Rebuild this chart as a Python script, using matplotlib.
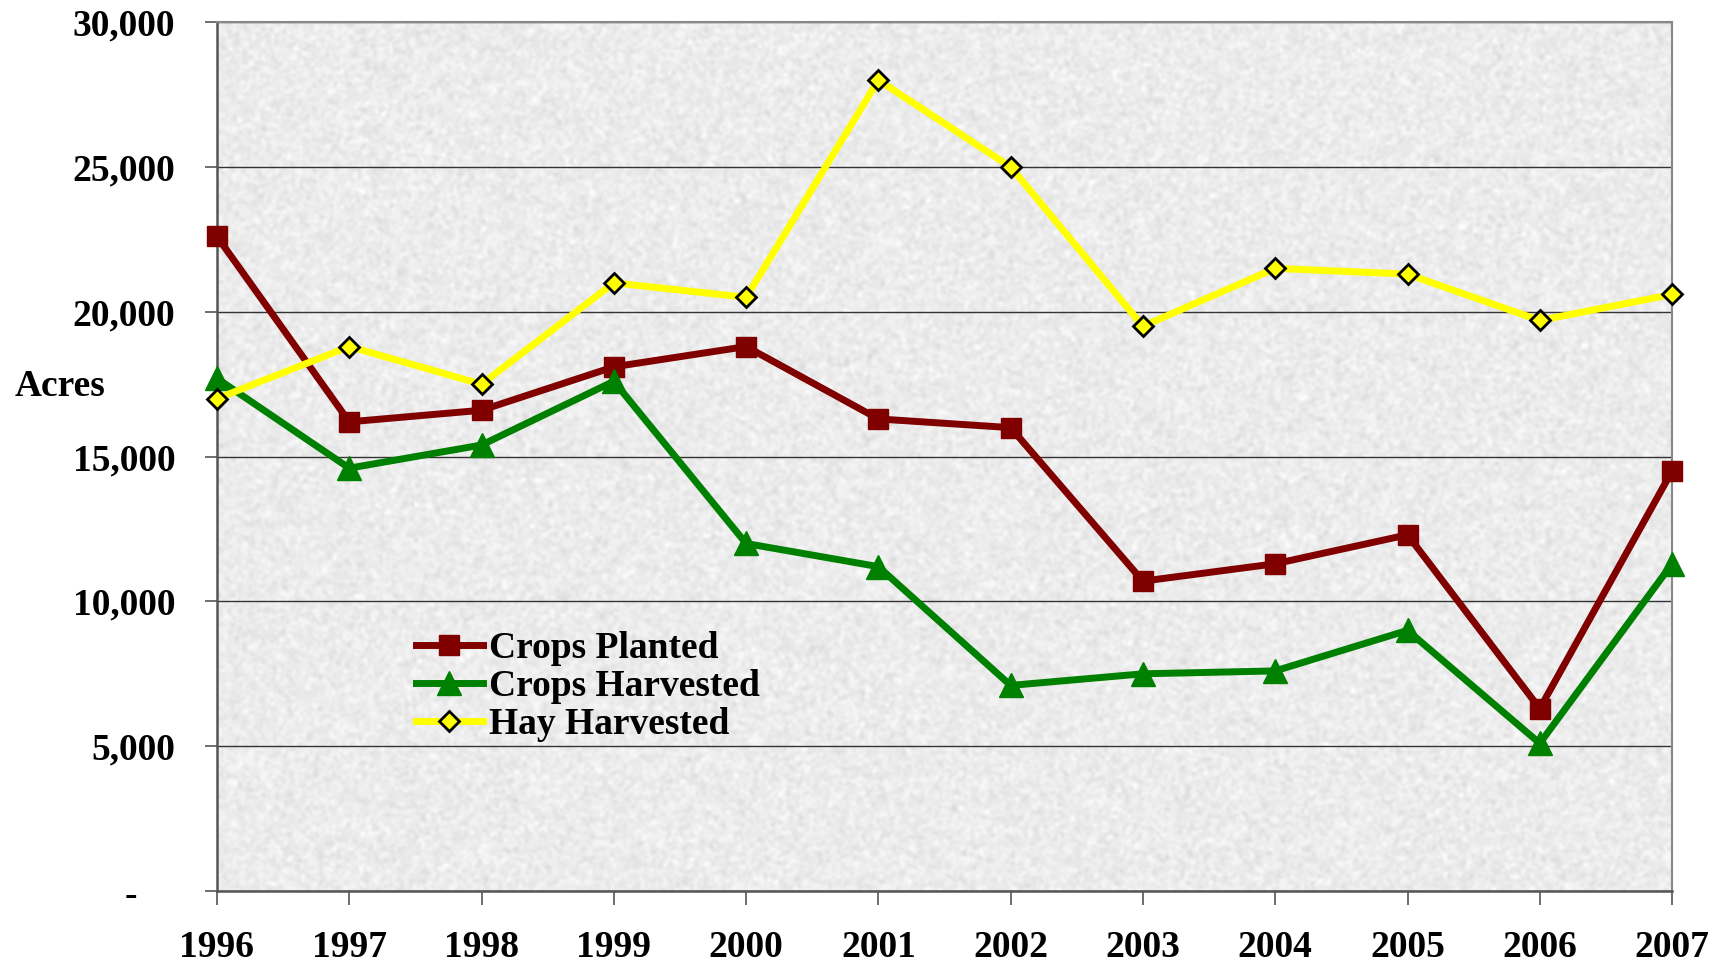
import numpy as np
import matplotlib
matplotlib.use("Agg")
import matplotlib.pyplot as plt

# -------------------------- Data --------------------------
years = [1996, 1997, 1998, 1999, 2000, 2001, 2002, 2003, 2004, 2005, 2006, 2007]
crops_planted = [22600, 16200, 16600, 18100, 18800, 16300, 16000, 10700, 11300, 12300, 6300, 14500]
crops_harvested = [17700, 14600, 15400, 17600, 12000, 11200, 7100, 7500, 7600, 9000, 5100, 11300]
hay_harvested = [17000, 18800, 17500, 21000, 20500, 28000, 25000, 19500, 21500, 21300, 19700, 20600]

y_ticks = [0, 5000, 10000, 15000, 20000, 25000, 30000]
y_labels = ["-    ", "5,000", "10,000", "15,000", "20,000", "25,000", "30,000"]

# -------------------------- Style --------------------------
plt.rcParams["font.family"] = ["Liberation Serif", "DejaVu Serif"]
plt.rcParams["font.weight"] = "bold"
fs = 27

fig = plt.figure(figsize=(17.22, 9.64), dpi=100)
ax = fig.add_axes([0.126, 0.0757, 0.845, 0.9013])

# granite-like background texture (decoration only)
rng = np.random.default_rng(3)
noise = rng.normal(0.0, 1.0, (440, 730))
k = np.array([0.25, 0.5, 0.25])
noise = np.apply_along_axis(lambda r: np.convolve(r, k, mode="same"), 1, noise)
noise = np.apply_along_axis(lambda c: np.convolve(c, k, mode="same"), 0, noise)
tex = 0.925 + 0.05 * noise
ax.imshow(tex, cmap="gray", vmin=0, vmax=1, extent=[0, 1, 0, 1],
          transform=ax.transAxes, aspect="auto", interpolation="bilinear", zorder=0)

ax.plot(years, crops_planted, color="#800000", lw=5, marker="s", ms=15,
        label="Crops Planted", zorder=3, clip_on=False)
ax.plot(years, crops_harvested, color="#008000", lw=5, marker="^", ms=17,
        label="Crops Harvested", zorder=3, clip_on=False)
ax.plot(years, hay_harvested, color="#FFFF00", lw=5, marker="D", ms=10,
        mfc="#FFFF00", mec="black", mew=2, label="Hay Harvested", zorder=4, clip_on=False)

ax.set_xlim(1996, 2007)
ax.set_ylim(0, 30000)
ax.set_xticks(years)
ax.set_xticklabels([str(y) for y in years], fontsize=fs, fontweight="bold")
ax.set_yticks(y_ticks)
ax.set_yticklabels(y_labels, fontsize=fs, fontweight="bold")
ax.tick_params(axis="y", length=9, width=1.2, color="#555555", pad=21)
ax.tick_params(axis="x", length=10, width=1.2, color="#555555", pad=18)

ax.set_axisbelow(True)
ax.grid(axis="y", color="#333333", lw=1.0)

for side in ["top", "right"]:
    ax.spines[side].set_color("#888888")
    ax.spines[side].set_linewidth(1.5)
for side in ["left", "bottom"]:
    ax.spines[side].set_color("#555555")
    ax.spines[side].set_linewidth(1.8)

ax.set_ylabel("Acres", fontsize=fs, fontweight="bold", rotation=0)
ax.yaxis.set_label_coords(-0.108, 0.56)

leg = ax.legend(loc="upper left", bbox_to_anchor=(0.121, 0.325), frameon=False,
                handlelength=1.8, handletextpad=0.15, labelspacing=0.08,
                borderpad=0.1, prop={"weight": "bold", "size": fs})

fig.savefig("out.png", dpi=100)
